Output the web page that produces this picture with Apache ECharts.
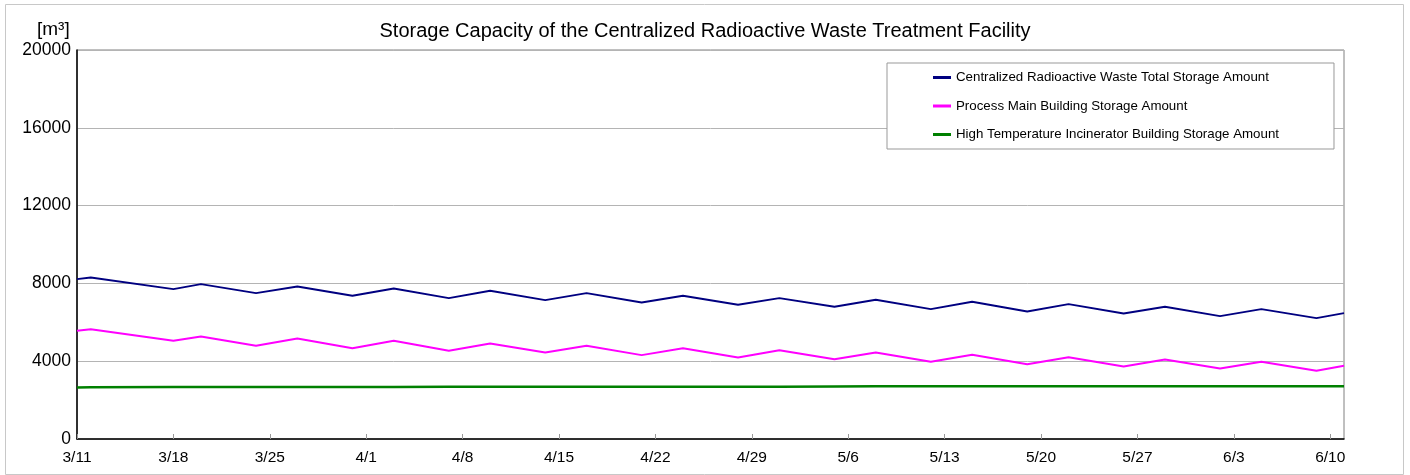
<!DOCTYPE html>
<html>
<head>
<meta charset="utf-8">
<script src="https://cdn.jsdelivr.net/npm/echarts@6/dist/echarts.min.js"></script>
<style>
  html, body { margin: 0; padding: 0; background: #fff; }
  #chart { width: 1410px; height: 475px; }
</style>
</head>
<body>
<div id="chart"></div>
<script>
// ---- data ----
const titleText = 'Storage Capacity of the Centralized Radioactive Waste Treatment Facility';
const unitText = '[m³]';
const seriesNames = [
  'Centralized Radioactive Waste Total Storage Amount',
  'Process Main Building Storage Amount',
  'High Temperature Incinerator Building Storage Amount'
];
const startDate = '3/11';
const endDate = '6/11';
const tickLabels = ['3/11','3/18','3/25','4/1','4/8','4/15','4/22','4/29','5/6','5/13','5/20','5/27','6/3','6/10'];
const dates = ['3/11','3/12','3/18','3/20','3/24','3/27','3/31','4/3','4/7','4/10','4/14','4/17','4/21','4/24',
               '4/28','5/1','5/5','5/8','5/12','5/15','5/19','5/22','5/26','5/29','6/2','6/5','6/9','6/11'];
const totalStorage = [8220,8308,7706,7963,7500,7845,7366,7742,7243,7623,7140,7500,7022,7366,
                      6903,7243,6800,7160,6677,7057,6559,6935,6456,6800,6317,6677,6214,6471];
const mainBuilding = [5566,5648,5051,5273,4794,5170,4671,5051,4537,4913,4450,4794,4313,4671,
                      4192,4568,4105,4450,3971,4331,3848,4208,3729,4090,3627,3971,3508,3765];
const incinerator  = [2650,2655,2670,2672,2675,2676,2677,2678,2680,2680,2681,2682,2683,2684,
                      2685,2686,2705,2707,2708,2709,2710,2711,2712,2713,2714,2715,2716,2717];
const yMin = 0, yMax = 20000, yStep = 4000;
const colors = ['#000080', '#FF00FF', '#008000'];

// ---- helpers ----
function dayOffset(md) {
  const [m, d] = md.split('/').map(Number);
  const [m0, d0] = startDate.split('/').map(Number);
  return Math.round((Date.UTC(2011, m - 1, d) - Date.UTC(2011, m0 - 1, d0)) / 86400000);
}
const xMax = dayOffset(endDate);
const pairs = vals => dates.map((d, i) => [dayOffset(d), vals[i]]);

const chart = echarts.init(document.getElementById('chart'), null, { renderer: 'canvas' });
const FONT = 'Liberation Sans, Arial, sans-serif';

chart.setOption({
  animation: false,
  backgroundColor: '#fff',
  title: {
    text: titleText,
    left: 'center',
    top: 16,
    textStyle: { fontFamily: FONT, fontSize: 20, fontWeight: 'normal', color: '#000' }
  },
  graphic: [
    { type: 'rect', shape: { x: 5.5, y: 4.5, width: 1398, height: 470 },
      style: { fill: 'none', stroke: '#c8c8c8', lineWidth: 1 }, silent: true, z: -10 },
    { type: 'text', left: 37, top: 20,
      style: { text: unitText, font: '19px ' + FONT, fill: '#000' } }
  ],
  legend: {
    orient: 'vertical',
    left: 887,
    top: 63,
    padding: [8, 55, 8, 46],
    itemGap: 15.5,
    itemWidth: 18,
    itemHeight: 3,
    icon: 'rect',
    borderColor: '#999',
    borderWidth: 1,
    backgroundColor: '#fff',
    textStyle: { fontFamily: FONT, fontSize: 13.3, color: '#000' },
    data: seriesNames
  },
  grid: {
    left: 77, right: 66, top: 50, bottom: 36,
    show: true, borderColor: '#808080', borderWidth: 1, backgroundColor: 'transparent'
  },
  xAxis: {
    type: 'value',
    min: 0,
    max: xMax,
    interval: 7,
    axisLine: { show: true, lineStyle: { color: '#000', width: 1.5 } },
    axisTick: { show: true, inside: true, length: 5, lineStyle: { color: '#999' } },
    splitLine: { show: false },
    axisLabel: {
      showMaxLabel: false,
      margin: 11,
      fontFamily: FONT, fontSize: 15.5, color: '#000',
      formatter: v => tickLabels[Math.round(v / 7)] || ''
    }
  },
  yAxis: {
    type: 'value',
    min: yMin, max: yMax, interval: yStep,
    axisLine: { show: true, lineStyle: { color: '#000', width: 1.5 } },
    axisTick: { show: false },
    splitLine: { show: true, lineStyle: { color: '#b4b4b4', width: 1 } },
    axisLabel: { margin: 6, fontFamily: FONT, fontSize: 17.5, color: '#000', formatter: v => String(v) }
  },
  series: [
    { name: seriesNames[0], type: 'line', data: pairs(totalStorage), showSymbol: false, symbol: 'none',
      lineStyle: { color: colors[0], width: 2 }, itemStyle: { color: colors[0] }, z: 3 },
    { name: seriesNames[1], type: 'line', data: pairs(mainBuilding), showSymbol: false, symbol: 'none',
      lineStyle: { color: colors[1], width: 2 }, itemStyle: { color: colors[1] }, z: 3 },
    { name: seriesNames[2], type: 'line', data: pairs(incinerator), showSymbol: false, symbol: 'none',
      lineStyle: { color: colors[2], width: 2.5 }, itemStyle: { color: colors[2] }, z: 3 }
  ]
});
</script>
</body>
</html>
